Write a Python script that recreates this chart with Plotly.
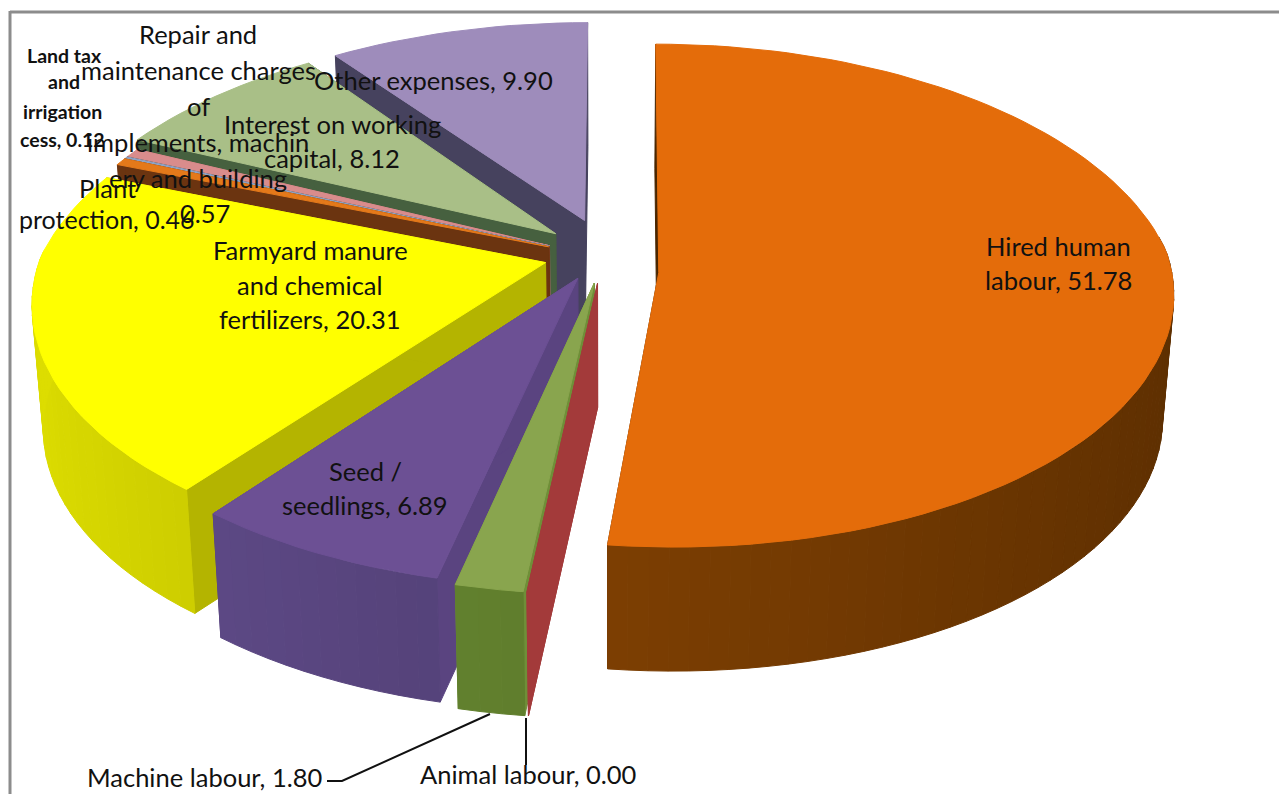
import math
import plotly.graph_objects as go

categories = ["Hired human labour", "Animal labour", "Machine labour", "Seed / seedlings",
              "Farmyard manure and chemical fertilizers", "Plant protection",
              "Land tax and irrigation cess",
              "Repair and maintenance charges of implements, machinery and building",
              "Interest on working capital", "Other expenses"]
values = [51.78, 0.00, 1.80, 6.89, 20.31, 0.46, 0.12, 0.57, 8.12, 9.90]

# styling, per slice
explode = [0.107, 0.11, 0.11, 0.10, 0.11, 0.109, 0.109, 0.109, 0.114, 0.12]
radius = [0.98, 1, 1, 1, 0.985, 0.98, 0.98, 0.98, 1, 1]
nudge = [(10, -3), (4, 0), (4, 0), (0, 0), (0, 0), (0, 2), (0, 2), (0, 2), (0, 0), (3, 0)]
apex_shift = [(-6, 19), (0, 0), (0, 0), (0, 0), (0, 0), (0, 0), (0, 0), (0, 0), (0, -3), (0, -6)]
top_col = ["#e46c0a", "#a33a3a", "#89a54e", "#6c5094", "#ffff00", "#e4791a", "#8ea4c8", "#d98c8c", "#a9bf87", "#9e8cbb"]
rim_col = ["#6f3802", "#a33a3a", "#557028", "#4a3a6a", "#a4a400", "#6b3410", "#6f84a0", "#a06060", "#47613f", "#706090"]
cut_col = ["#4a2600", "#a33a3a", "#6f8f38", "#5a4480", "#b4b400", "#6b3410", "#6b3410", "#a06060", "#46603f", "#46425e"]

CX, CY, A, B, P_BACK, P_FRONT, Q, D = 600, 255, 512, 255, 0.20, 0.15, 0.02, 124


def project(X, Y, Z=0.0, n=(0, 0)):
    s = 1 / (1 + (P_BACK if Y > 0 else P_FRONT) * Y)
    s2 = 1 - Q * Z
    return CX + A * X * s * s2 + n[0], CY - B * Y * s + D * Z + n[1]


def shade(hex_col, f):
    r, g, b = int(hex_col[1:3], 16), int(hex_col[3:5], 16), int(hex_col[5:7], 16)
    return "rgb(%d,%d,%d)" % (min(255, r * f), min(255, g * f), min(255, b * f))


total = sum(values)
slices = []
acc = 0.0
for i, v in enumerate(values):
    a0 = acc / total * 2 * math.pi
    acc += v
    a1 = acc / total * 2 * math.pi
    mid = (a0 + a1) / 2
    slices.append(dict(i=i, a0=a0, a1=a1, ox=explode[i] * math.sin(mid), oy=explode[i] * math.cos(mid)))

fig = go.Figure()


def poly(pts, color, name):
    xs = [p[0] for p in pts] + [pts[0][0]]
    ys = [p[1] for p in pts] + [pts[0][1]]
    fig.add_trace(go.Scatter(x=xs, y=ys, mode="lines", fill="toself", fillcolor=color,
                             line=dict(color=color, width=1), name=name, hoverinfo="name", showlegend=False))


def rim_point(sl, ang, z=0.0):
    i = sl["i"]
    return project(sl["ox"] + radius[i] * math.sin(ang), sl["oy"] + radius[i] * math.cos(ang), z, nudge[i])


# back slices are painted first; the front is painted last
for sl in [slices[k] for k in [9, 8, 7, 6, 5, 0, 4, 3, 2, 1]]:
    i = sl["i"]
    name = categories[i]
    n0 = (nudge[i][0] + apex_shift[i][0], nudge[i][1] + apex_shift[i][1])
    apex = project(sl["ox"], sl["oy"], 0, n0)
    apex_b = project(sl["ox"], sl["oy"], 1, n0)
    for ang in (sl["a0"], sl["a1"]):
        poly([apex, rim_point(sl, ang), rim_point(sl, ang, 1), apex_b], cut_col[i], name)
    n = max(2, int((sl["a1"] - sl["a0"]) / math.radians(2)))
    if sl["a1"] > sl["a0"]:
        for k in range(n):
            t0 = sl["a0"] + (sl["a1"] - sl["a0"]) * k / n
            t1 = sl["a0"] + (sl["a1"] - sl["a0"]) * (k + 1) / n
            if math.cos((t0 + t1) / 2) > 0.05:
                continue  # the rim faces away from the viewer here
            f = 1.1 - 0.25 * math.sin((t0 + t1) / 2)
            poly([rim_point(sl, t0), rim_point(sl, t1), rim_point(sl, t1, 1), rim_point(sl, t0, 1)],
                 shade(rim_col[i], f), name)
        top = [apex]
        for k in range(n + 1):
            top.append(rim_point(sl, sl["a0"] + (sl["a1"] - sl["a0"]) * k / n))
        poly(top, top_col[i], name)

S = 25.5
label_lines = [
    ("Hired human", 1058, 246, S, False), ("labour, 51.78", 1058, 280, S, False),
    ("Farmyard manure", 310, 250, S, False), ("and chemical", 310, 285, S, False),
    ("fertilizers, 20.31", 310, 319, S, False),
    ("Seed /", 365, 471, S, False), ("seedlings, 6.89", 365, 505, S, False),
    ("Other expenses, 9.90", 433, 80, S, False),
    ("Interest on working", 332, 124, S, False), ("capital, 8.12", 332, 158, S, False),
    ("Repair and", 198, 34, S, False), ("maintenance charges", 198, 70, S, False),
    ("of", 198, 106, S, False), ("implements, machin", 198, 142, S, False),
    ("ery and building", 198, 178, S, False), ("0.57", 205, 213, S, False),
    ("Land tax", 64, 55, 19.5, True), ("and", 64, 81, 19.5, True),
    ("irrigation", 62, 111, 19.5, True), ("cess, 0.12", 62, 139, 19.5, True),
    ("Plant", 107, 188, S, False), ("protection, 0.46", 107, 219, 25, False),
    ("Machine labour, 1.80", 205, 777, S, False), ("Animal labour, 0.00", 528, 774, S, False),
]
for text, x, y, size, bold in label_lines:
    fig.add_annotation(x=x, y=y, text=("<b>%s</b>" % text) if bold else text, showarrow=False,
                       font=dict(family="Lato", size=size, color="#111111"), xanchor="center", yanchor="middle")

for xs, ys in (([327, 342, 490], [781, 781, 714]), ([526, 526], [718, 765])):
    fig.add_trace(go.Scatter(x=xs, y=ys, mode="lines", line=dict(color="#111111", width=2),
                             hoverinfo="skip", showlegend=False))

frame = dict(type="line", line=dict(color="#8c8c8c", width=3), xref="x", yref="y")
fig.add_shape(x0=10, x1=10, y0=11, y1=794, **frame)
fig.add_shape(x0=10, x1=1279, y0=12, y1=12, **frame)

fig.update_layout(width=1279, height=794, margin=dict(l=0, r=0, t=0, b=0), paper_bgcolor="white",
                  plot_bgcolor="white", showlegend=False,
                  xaxis=dict(range=[0, 1279], visible=False, fixedrange=True),
                  yaxis=dict(range=[794, 0], visible=False, fixedrange=True))
fig.write_html("out.html", config={"displayModeBar": False}, post_script="document.body.style.margin='0';")
